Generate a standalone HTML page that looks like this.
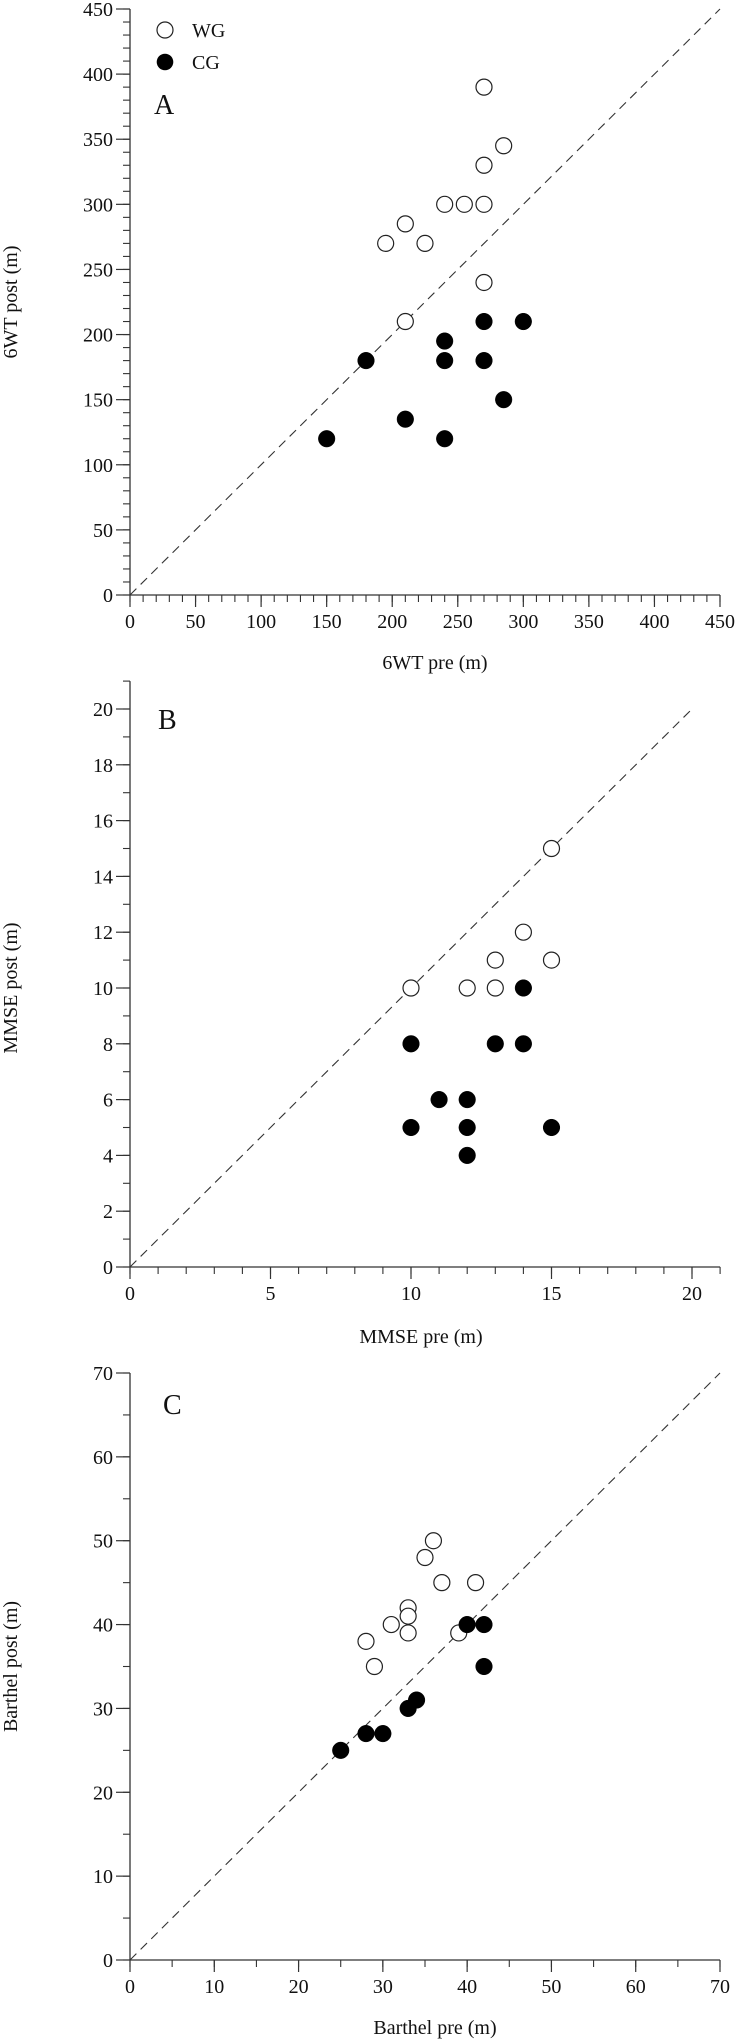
<!DOCTYPE html>
<html><head><meta charset="utf-8">
<style>
html,body{margin:0;padding:0;background:#fff;}
svg{display:block;font-family:"Liberation Serif",serif;}
</style></head>
<body>
<svg id="fig" width="738" height="2039" viewBox="0 0 738 2039" xmlns="http://www.w3.org/2000/svg"></svg>
<script>
// Panel A data (6WT)
const aWgPre = [270,285,270,240,255,270,210,195,225,270,210];
const aWgPost = [390,345,330,300,300,300,285,270,270,240,210];
const aCgPre = [270,300,240,180,240,270,285,210,150,240];
const aCgPost = [210,210,195,180,180,180,150,135,120,120];
const aTicks = [0,50,100,150,200,250,300,350,400,450];
// Panel B data (MMSE)
const bWgPre = [10,12,13,13,14,15,15];
const bWgPost = [10,10,10,11,12,11,15];
const bCgPre = [14,10,13,14,11,12,10,12,15,12];
const bCgPost = [10,8,8,8,6,6,5,5,5,4];
const bXTicks = [0,5,10,15,20];
const bYTicks = [0,2,4,6,8,10,12,14,16,18,20];
// Panel C data (Barthel)
const cWgPre = [36,35,37,41,33,33,31,33,28,39,29];
const cWgPost = [50,48,45,45,42,41,40,39,38,39,35];
const cCgPre = [40,42,42,34,33,28,30,25];
const cCgPost = [40,40,35,31,30,27,27,25];
const cTicks = [0,10,20,30,40,50,60,70];

const NS = "http://www.w3.org/2000/svg";
const svg = document.getElementById('fig');
function mk(tag, attrs, parent){
  const e = document.createElementNS(NS, tag);
  for (const k in attrs) e.setAttribute(k, attrs[k]);
  (parent||svg).appendChild(e);
  return e;
}

function panel(cfg){
  const g = mk('g', {});
  
  
  const sx = v => cfg.x0 + (v - cfg.xmin) / (cfg.xmax - cfg.xmin) * (cfg.x1 - cfg.x0);
  const sy = v => cfg.y0 - (v - cfg.ymin) / (cfg.ymax - cfg.ymin) * (cfg.y0 - cfg.y1);
  // axes
  const xa = mk('line', {x1:cfg.x0, y1:cfg.y0, x2:sx(cfg.xend), y2:cfg.y0, stroke:'#333', 'stroke-width':1.3}, g);
  
  
  const ya = mk('line', {x1:cfg.x0, y1:cfg.y0, x2:cfg.x0, y2:sy(cfg.yend), stroke:'#333', 'stroke-width':1.3}, g);
  
  
  // minor ticks
  for (let v = cfg.xmin; v <= cfg.xend + 1e-9; v += cfg.xminor){
    mk('line', {x1:sx(v), y1:cfg.y0, x2:sx(v), y2:cfg.y0+7, stroke:'#333', 'stroke-width':1.1}, g);
  }
  for (let v = cfg.ymin; v <= cfg.yend + 1e-9; v += cfg.yminor){
    mk('line', {x1:cfg.x0-7, y1:sy(v), x2:cfg.x0, y2:sy(v), stroke:'#333', 'stroke-width':1.1}, g);
  }
  cfg.xTicks.forEach(v => {
    mk('line', {x1:sx(v), y1:cfg.y0, x2:sx(v), y2:cfg.y0+12, stroke:'#333', 'stroke-width':1.2}, g);
    const t = mk('text', {x:sx(v), y:cfg.y0+33, 'text-anchor':'middle', 'font-size':20, fill:'#111'}, g);
    t.textContent = v;
    
    
  });
  cfg.yTicks.forEach(v => {
    mk('line', {x1:cfg.x0-14, y1:sy(v), x2:cfg.x0, y2:sy(v), stroke:'#333', 'stroke-width':1.2}, g);
    const t = mk('text', {x:cfg.x0-17, y:sy(v)+7, 'text-anchor':'end', 'font-size':20, fill:'#111'}, g);
    t.textContent = v;
    
    
  });
  // identity line
  const dl = mk('line', {x1:sx(cfg.xmin), y1:sy(cfg.ymin), x2:sx(cfg.diag), y2:sy(cfg.diag), stroke:'#333', 'stroke-width':1.1, 'stroke-dasharray':'9,6'}, g);
  
  
  // points
  cfg.wgPre.forEach((v,i) => {
    const c = mk('circle', {cx:sx(v), cy:sy(cfg.wgPost[i]), r:8, fill:'#fff', stroke:'#222', 'stroke-width':1.2}, g);
    
    
  });
  cfg.cgPre.forEach((v,i) => {
    const c = mk('circle', {cx:sx(v), cy:sy(cfg.cgPost[i]), r:8.3, fill:'#000', stroke:'#000', 'stroke-width':0.5}, g);
    
    
  });
  // titles
  const xt = mk('text', {x:(cfg.x0+cfg.x1)/2+10, y:cfg.xTitleY, 'text-anchor':'middle', 'font-size':20, fill:'#111'}, g);
  xt.textContent = cfg.xTitle;
  
  
  const ycy = (cfg.y0+cfg.y1)/2;
  const yt = mk('text', {x:0, y:0, transform:'translate(17,'+ycy+') rotate(-90)', 'text-anchor':'middle', 'font-size':20, fill:'#111'}, g);
  yt.textContent = cfg.yTitle;
  
  
  const pl = mk('text', {x:cfg.labelX, y:cfg.labelY, 'font-size':28, fill:'#111'}, g);
  pl.textContent = cfg.id;
  
  
}

panel({id:'A', x0:130, x1:720, y0:595, y1:9, xmin:0, xmax:450, ymin:0, ymax:450, xend:450, yend:450,
  xminor:10, yminor:10, xTicks:aTicks, yTicks:aTicks, diag:450,
  wgPre:aWgPre, wgPost:aWgPost, cgPre:aCgPre, cgPost:aCgPost,
  xTitle:'6WT pre (m)', yTitle:'6WT post (m)', xTitleY:669, labelX:154, labelY:114});
panel({id:'B', x0:130, x1:692, y0:1267, y1:709, xmin:0, xmax:20, ymin:0, ymax:20, xend:21, yend:21,
  xminor:1, yminor:1, xTicks:bXTicks, yTicks:bYTicks, diag:20,
  wgPre:bWgPre, wgPost:bWgPost, cgPre:bCgPre, cgPost:bCgPost,
  xTitle:'MMSE pre (m)', yTitle:'MMSE post (m)', xTitleY:1343, labelX:158, labelY:729});
panel({id:'C', x0:130, x1:720, y0:1960, y1:1373, xmin:0, xmax:70, ymin:0, ymax:70, xend:70, yend:70,
  xminor:5, yminor:5, xTicks:cTicks, yTicks:cTicks, diag:70,
  wgPre:cWgPre, wgPost:cWgPost, cgPre:cCgPre, cgPost:cCgPost,
  xTitle:'Barthel pre (m)', yTitle:'Barthel post (m)', xTitleY:2034, labelX:163, labelY:1414});

// legend
const lg = mk('g', {});


const l1 = mk('circle', {cx:165, cy:30, r:8, fill:'#fff', stroke:'#222', 'stroke-width':1.2}, lg);


const t1 = mk('text', {x:192, y:37, 'font-size':20, fill:'#111'}, lg);
t1.textContent = 'WG';


const l2 = mk('circle', {cx:165, cy:62, r:8.3, fill:'#000'}, lg);


const t2 = mk('text', {x:192, y:69, 'font-size':20, fill:'#111'}, lg);
t2.textContent = 'CG';


</script>
</body></html>
